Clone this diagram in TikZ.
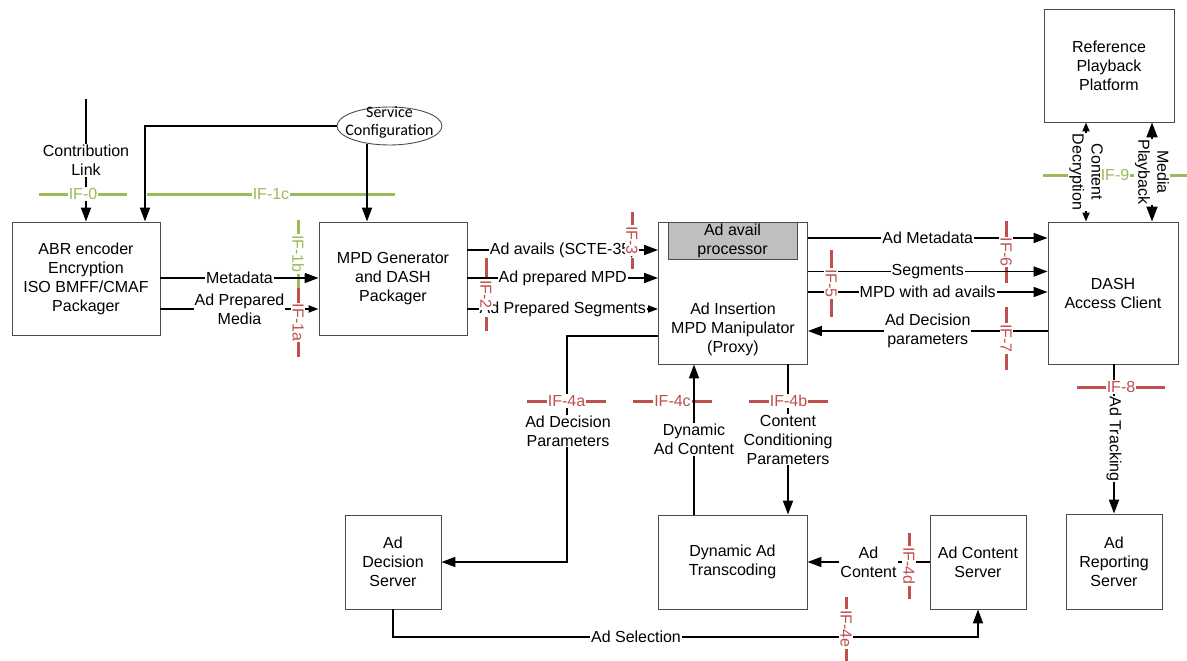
\documentclass[tikz,border=0pt]{standalone}
\usepackage{fontspec}
\setmainfont{Liberation Sans}
\newfontfamily\calfont{Carlito}
\usetikzlibrary{arrows.meta,shapes.geometric,calc}
\definecolor{ifgreen}{HTML}{9BBB59}
\definecolor{ifred}{HTML}{C0504D}
\definecolor{availgray}{HTML}{BFBFBF}

% interface markers: name/colour/start x/start y/end x/end y/label rotation/label
\def\iflist{if0/ifgreen/39/194/127/194/0/IF-0,%
if1c/ifgreen/147/194/395/194/0/IF-1c,%
if1b/ifgreen/298/220/298/288/-90/IF-1b,%
if1a/ifred/298/288/298/357/-90/IF-1a,%
if2/ifred/486/258/486/331/-90/IF-2,%
if3/ifred/632/212/632/269/-90/IF-3,%
if5/ifred/831/250/831/317/-90/IF-5,%
if6/ifred/1006/221/1006/283/-90/IF-6,%
if7/ifred/1006/307/1006/370/-90/IF-7,%
if9/ifgreen/1043/175/1187/175/0/IF-9,%
if8/ifred/1077/387/1165/387/0/IF-8,%
if4a/ifred/527/401/606/401/0/IF-4a,%
if4c/ifred/633/401/712/401/0/IF-4c,%
if4b/ifred/749/401/828/401/0/IF-4b,%
if4d/ifred/909/533/909/599/-90/IF-4d,%
if4e/ifred/846/597/846/661/-90/IF-4e}

\begin{document}
\begin{tikzpicture}[x=1pt, y=-1pt,
  every node/.style={font=\fontsize{16}{19}\selectfont},
  box/.style={draw=black!70, line width=0.9pt, fill=white, align=center, inner sep=0pt},
  lbl/.style={fill=white, inner sep=1pt, align=center},
  conn/.style={line width=1.8pt},
  arr/.style={conn, -{Triangle[length=14pt,width=10pt]}},
  sarr/.style={conn, -{Triangle[length=10pt,width=7pt]}},
  darrs/.style={conn, {Triangle[length=9pt,width=7pt]}-{Triangle[length=9pt,width=7pt]}},
  darrb/.style={conn, {Triangle[length=15pt,width=11pt]}-{Triangle[length=15pt,width=11pt]}},
  ifline/.style={line width=3pt},
  iflbl/.style={fill=white, inner sep=1pt},
]
\useasboundingbox (0,0) rectangle (1187,661);

% ---- blocks ----
\node[box, minimum width=148pt, minimum height=113pt] (abr) at (86,278.5)
  {ABR encoder\\Encryption\\ISO BMFF/CMAF\\Packager};
\node[box, minimum width=148pt, minimum height=113pt] (mpd) at (393,278.5)
  {MPD Generator\\and DASH\\Packager};
\node[box, minimum width=149pt, minimum height=142pt] (adins) at (733,293) {};
\node[box, fill=availgray, minimum width=129pt, minimum height=37pt] (avail) at (732.5,240.5)
  {Ad avail\\processor};
\node[align=center] (adinsTxt) at (733,329.5) {Ad Insertion\\MPD Manipulator\\(Proxy)};
\node[box, minimum width=130pt, minimum height=113pt] (ref) at (1109,65.5)
  {Reference\\Playback\\Platform};
\node[box, minimum width=130pt, minimum height=142pt] (dash) at (1113,293)
  {DASH\\Access Client};
\node[box, minimum width=96pt, minimum height=94pt] (ads) at (393,562)
  {Ad\\Decision\\Server};
\node[box, minimum width=149pt, minimum height=94pt] (dat) at (732.5,562)
  {Dynamic Ad\\Transcoding};
\node[box, minimum width=96pt, minimum height=94pt] (acs) at (978,562)
  {Ad Content\\Server};
\node[box, minimum width=96pt, minimum height=95pt] (ars) at (1114,561.5)
  {Ad\\Reporting\\Server};
\node[draw=black!70, line width=0.9pt, ellipse, minimum width=105pt, minimum height=38pt,
  inner sep=0pt] (svc) at (389.5,126) {};
\node[font=\calfont\fontsize{16}{18}\selectfont, align=center] (svcTxt) at (389.5,122)
  {Service\\Configuration};

% ---- interface marker lines ----
\foreach \nm/\col/\xa/\ya/\xb/\yb/\rot/\txt in \iflist {
  \draw[ifline, draw=\col] (\xa,\ya) coordinate (\nm-s) -- (\xb,\yb) coordinate (\nm-e);
}

% ---- helper levels ----
\coordinate (contribTop) at (86,99);
\coordinate (yAvail) at (0,250);
\coordinate (yMeta) at (0,278);
\coordinate (yPrep) at (0,309);
\coordinate (yAdMeta) at (0,238);
\coordinate (ySeg) at (0,271.5);
\coordinate (yMpdAv) at (0,292);
\coordinate (yAdDec) at (0,331);
\coordinate (cdx) at (1086,0);
\coordinate (mpx) at (1152,0);
\coordinate (dynx) at (694,0);
\coordinate (ccx) at (788,0);
\coordinate (adpCorner) at (567,336);
\coordinate (adSel) at (636,637);

% ---- connectors ----
\draw[arr] (contribTop) -- (abr.north);
\node[lbl] (contribLbl) at (86,160.5) {Contribution\\Link};
\draw[arr] (svc.west) -| ([xshift=59pt]abr.north);
\draw[arr] ([xshift=-26pt]mpd.north |- svc.218) -- ([xshift=-26pt]mpd.north);

\draw[arr] (abr.east |- yMeta) -- node[lbl] (metaLbl) {Metadata} (mpd.west |- yMeta);
\draw[sarr] (abr.east |- yPrep) -- node[lbl] (prepLbl) {Ad Prepared\\Media} (mpd.west |- yPrep);

\draw[arr] (mpd.east |- yAvail) -- node[lbl] (availLbl) {Ad avails (SCTE-35)} (adins.west |- yAvail);
\draw[arr] (mpd.east |- yMeta) -- node[lbl] (prepMpdLbl) {Ad prepared MPD} (adins.west |- yMeta);
\draw[sarr] (mpd.east |- yPrep) -- node[lbl] (prepSegLbl) {Ad Prepared Segments} (adins.west |- yPrep);

\draw[arr] (adins.east |- yAdMeta) -- node[lbl] (adMetaLbl) {Ad Metadata} (dash.west |- yAdMeta);
\draw[arr] (adins.east |- ySeg) -- node[lbl] (segLbl) {Segments} (dash.west |- ySeg);
\draw[arr] (adins.east |- yMpdAv) -- node[lbl] (mpdAvLbl) {MPD with ad avails} (dash.west |- yMpdAv);
\draw[arr] (dash.west |- yAdDec) -- node[lbl] (adDecLbl) {Ad Decision\\parameters} (adins.east |- yAdDec);

\draw[darrs] (ref.south -| cdx) -- node[lbl, rotate=-90] (cdLbl) {Content\\Decryption} (dash.north -| cdx);
\draw[darrb] (ref.south -| mpx) -- node[lbl, rotate=-90] (mpLbl) {Media\\Playback} (dash.north -| mpx);

\draw[arr] (dash.south -| ars.north) -- node[lbl, rotate=-90] (trackLbl) {Ad Tracking} (ars.north);

\draw[arr] (adins.west |- adpCorner) -- (adpCorner) |- (ads.east);
\node[lbl] (adpLbl) at (568,431) {Ad Decision\\Parameters};
\draw[arr] (dat.north -| dynx) -- node[lbl] (dynLbl) {Dynamic\\Ad Content} (adins.south -| dynx);
\draw[arr] (adins.south -| ccx) -- node[lbl] (ccLbl) {Content\\Conditioning\\Parameters} (dat.north -| ccx);
\draw[arr] (acs.west) -- node[lbl] (adContLbl) {Ad\\Content} (dat.east);
\draw[arr] (ads.south) |- (adSel) node[lbl] (adSelLbl) {Ad Selection} -| (acs.south);

% ---- interface marker labels ----
\foreach \nm/\col/\xa/\ya/\xb/\yb/\rot/\txt in \iflist {
  \node[iflbl, text=\col, rotate=\rot] (\nm) at ($(\nm-s)!0.5!(\nm-e)$) {\txt};
}
\end{tikzpicture}
\end{document}
